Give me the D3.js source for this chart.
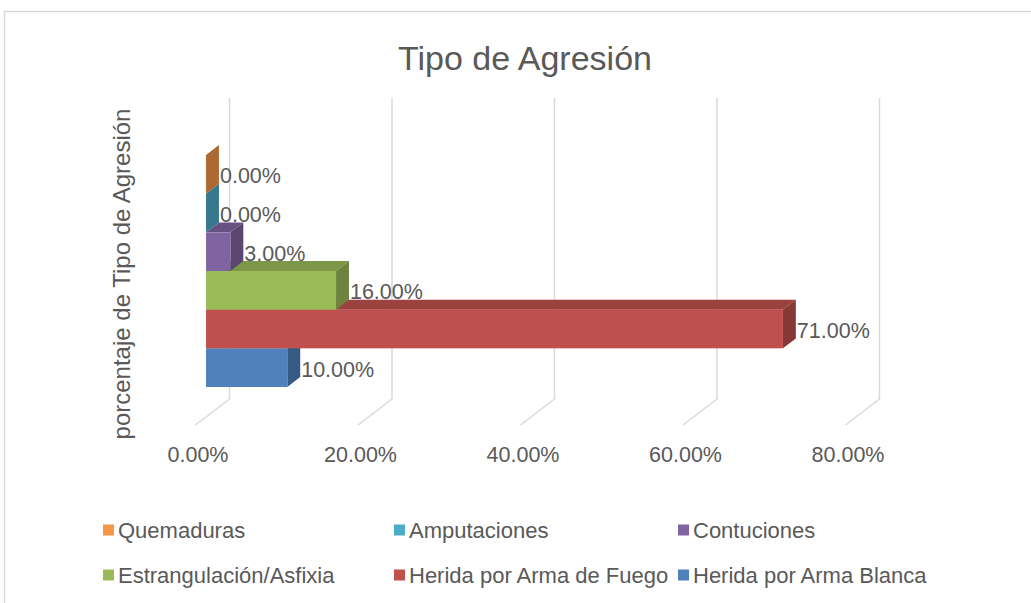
<!DOCTYPE html>
<html><head><meta charset="utf-8">
<script src="https://cdn.jsdelivr.net/npm/d3@7"></script>
<style>
html,body{margin:0;padding:0;background:#fff;}
svg{display:block;font-family:"Liberation Sans",Arial,sans-serif;}
</style></head>
<body>
<svg id="chart" width="1031" height="603"></svg>
<script>
// ---- data ----
const chartTitle = "Tipo de Agresión";
const yAxisTitle = "porcentaje de Tipo de Agresión";
const seriesNames = ["Quemaduras","Amputaciones","Contuciones","Estrangulación/Asfixia","Herida por Arma de Fuego","Herida por Arma Blanca"];
const seriesValues = [0.00, 0.00, 0.03, 0.16, 0.71, 0.10];
const seriesColors = ["#F79646","#4BACC6","#8064A2","#9BBB59","#C0504D","#4F81BD"];
const tickValues = [0, 0.2, 0.4, 0.6, 0.8];
const xMax = 0.8;

const svg = d3.select("#chart");
const textColor = "#595959";
const gridColor = "#D9D9D9";

// chart area border
svg.append("path").attr("d","M4.5,610 L4.5,11.5 L1040,11.5")
  .attr("fill","none").attr("stroke","#D9D9D9").attr("stroke-width",1.5);

// title
svg.append("text").attr("x",525).attr("y",70).attr("text-anchor","middle")
  .attr("font-size",34).attr("fill",textColor).text(chartTitle);

// 3D geometry: back wall plane scale, depth offset toward front
const xBack = d3.scaleLinear().domain([0,xMax]).range([229.5,879.5]);
const depthDX = -34, depthDY = 26;          // full floor depth (back -> front)
const wallTop = 98, floorBackY = 399;
const tFront = 0.69, tBack = 0.31;          // bar front/back depth fractions
const barFrontX = v => xBack(v) + depthDX*tFront;
const bdx = depthDX*(tBack - tFront), bdy = depthDY*(tBack - tFront); // front->back of bar

// gridlines (back wall + floor)
const grid = svg.append("g");
tickValues.forEach(v=>{
  const xb = xBack(v);
  grid.append("path")
    .attr("d",`M${xb},${wallTop} L${xb},${floorBackY} L${xb+depthDX},${floorBackY+depthDY}`)
    .attr("fill","none").attr("stroke",gridColor).attr("stroke-width",1.5);
});

// bar vertical band scale (front faces)
const yBand = d3.scaleBand().domain(seriesNames).range([155,387]).padding(0);

// draw from bottom bar to top bar
const order = d3.range(seriesNames.length).reverse();
const bars = svg.append("g");
order.forEach(i=>{
  const name = seriesNames[i], v = seriesValues[i];
  const base = d3.color(seriesColors[i]);
  const topC = base.darker(0.6).formatHex();
  const sideC = base.darker(1.0).formatHex();
  const x0 = barFrontX(0), x1 = barFrontX(v);
  const y0 = yBand(name), y1 = y0 + yBand.bandwidth();
  const g = bars.append("g");
  // top face
  g.append("path").attr("d",`M${x0},${y0} L${x1},${y0} L${x1+bdx},${y0+bdy} L${x0+bdx},${y0+bdy} Z`)
    .attr("fill",topC);
  // right side face
  g.append("path").attr("d",`M${x1},${y0} L${x1+bdx},${y0+bdy} L${x1+bdx},${y1+bdy} L${x1},${y1} Z`)
    .attr("fill",sideC);
  // front face
  if (x1 > x0) g.append("rect").attr("x",x0).attr("y",y0).attr("width",x1-x0).attr("height",y1-y0)
    .attr("fill",base.formatHex());
});

// data labels
const fmt = d3.format(".2%");
const labels = svg.append("g");
seriesNames.forEach((name,i)=>{
  const v = seriesValues[i];
  labels.append("text")
    .attr("x",barFrontX(v)+bdx+1)
    .attr("y",yBand(name)+yBand.bandwidth()/2+1.5)
    .attr("dy","0.35em")
    .attr("font-size",21.5).attr("fill",textColor).text(fmt(v));
});

// value axis labels on front floor edge
const xFront = d3.scaleLinear().domain([0,xMax]).range([xBack(0)+depthDX+2, xBack(xMax)+depthDX+2]);
const axis = d3.axisBottom(xFront).tickValues(tickValues).tickFormat(fmt).tickSize(0).tickPadding(0);
const ag = svg.append("g").attr("transform","translate(0,447)").call(axis);
ag.select(".domain").remove();
ag.selectAll("text").attr("font-size",21.5).attr("fill",textColor)
  .attr("font-family","Liberation Sans, Arial, sans-serif").attr("dy","0.71em");

// y axis title
svg.append("text").attr("transform","translate(122,274) rotate(-90)")
  .attr("text-anchor","middle").attr("dy","0.35em")
  .attr("font-size",24).attr("fill",textColor).text(yAxisTitle);

// legend
const legendRows = [[0,1,2],[3,4,5]];
const colX = [103,394,678];
const rowY = [530,575];
const leg = svg.append("g");
legendRows.forEach((row,r)=>{
  row.forEach((i,c)=>{
    leg.append("rect").attr("x",colX[c]).attr("y",rowY[r]-5.5).attr("width",11).attr("height",11)
      .attr("fill",seriesColors[i]);
    leg.append("text").attr("x",colX[c]+15).attr("y",rowY[r]).attr("dy","0.35em")
      .attr("font-size",22).attr("fill",textColor).text(seriesNames[i]);
  });
});
</script>
</body></html>
